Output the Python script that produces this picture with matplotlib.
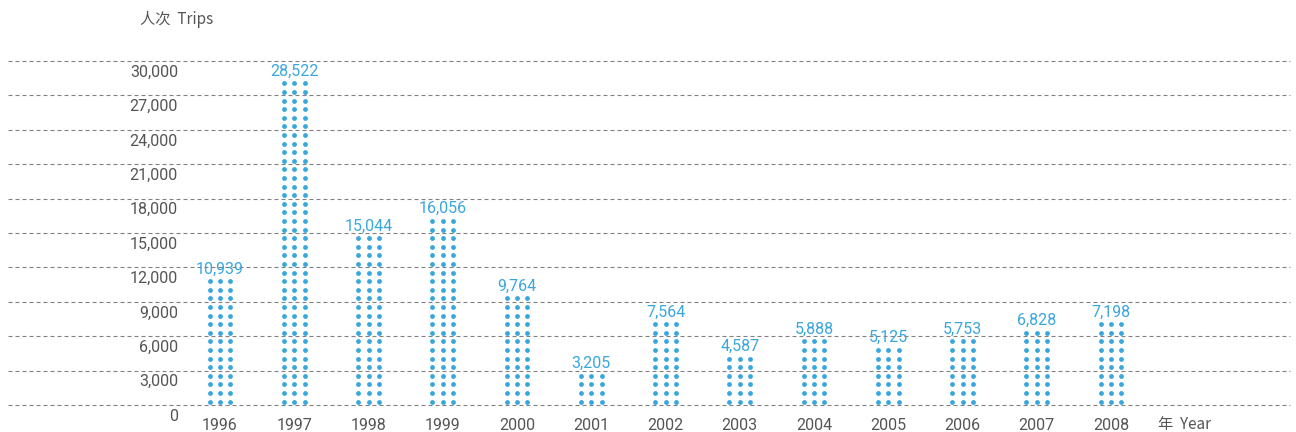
import numpy as np
import matplotlib
matplotlib.use("Agg")
import matplotlib.pyplot as plt
import matplotlib.transforms as mtransforms

# data
years = ["1996", "1997", "1998", "1999", "2000", "2001", "2002",
         "2003", "2004", "2005", "2006", "2007", "2008"]
trips = [10939, 28522, 15044, 16056, 9764, 3205, 7564,
         4587, 5888, 5125, 5753, 6828, 7198]
yticks = [0, 3000, 6000, 9000, 12000, 15000, 18000, 21000, 24000, 27000, 30000]

BLUE = "#3aa6de"
GREY = "#555555"
NUM_FONT = ["Roboto", "DejaVu Sans"]
CJK_FONT = ["Noto Sans CJK SC", "Liberation Sans", "DejaVu Sans"]

DOT_STEP = 750      # one dot row per 750 trips
DOT_BASE = 290      # first row a little above zero
COL_OFF = 0.139     # horizontal distance between dot columns

fig = plt.figure(figsize=(12.96, 4.32), dpi=100)
ax = fig.add_axes([8 / 1296, 1 - 405 / 432, 1282 / 1296, 344 / 432])

x = np.arange(len(years))
ax.set_xlim(-2.855, len(years) - 1 + 2.41)
ax.set_ylim(0, 30000)

# dashed grid
for t in yticks:
    ax.axhline(t, color="#808080", lw=0.8, ls=(0, (3.6, 2.7)), zorder=1,
               clip_on=False)

# dotted columns
for xi, v in zip(x, trips):
    rows = np.arange(DOT_BASE, v, DOT_STEP)
    for off in (-COL_OFF, 0, COL_OFF):
        ax.scatter(np.full(len(rows), xi + off), rows, s=12, color=BLUE,
                   linewidths=0, zorder=3, clip_on=False)
    ax.annotate(f"{v:,}", (xi, rows[-1]), xytext=(0, 3.5),
                textcoords="offset points", ha="center", va="bottom",
                color=BLUE, fontsize=11.5, family=NUM_FONT)

# y labels sit just under their gridline
trans = mtransforms.blended_transform_factory(ax.transAxes, ax.transData)
for t in yticks:
    ax.annotate(f"{t:,}", (0.1326, t), xycoords=trans, xytext=(0, -8),
                textcoords="offset points", ha="right", va="center",
                color=GREY, fontsize=11.5, family=NUM_FONT)

ax.set_xticks(x, years)
ax.tick_params(axis="x", length=0, pad=9, labelsize=11.5, labelcolor=GREY)
for lab in ax.get_xticklabels():
    lab.set_family(NUM_FONT)
ax.set_yticks([])
for s in ax.spines.values():
    s.set_visible(False)

fig.text(140 / 1296, 1 - 20 / 432, "人次  Trips", ha="left", va="center",
         color=GREY, fontsize=11, family=CJK_FONT)
fig.text(1158 / 1296, 1 - 424 / 432, "年  Year", ha="left", va="center",
         color=GREY, fontsize=11, family=CJK_FONT)

fig.savefig("out.png", dpi=100)
